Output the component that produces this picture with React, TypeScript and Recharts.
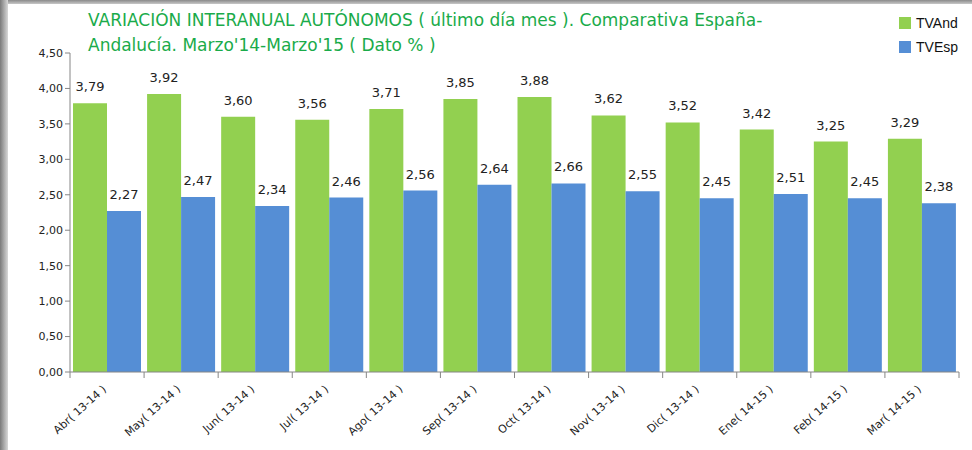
import { BarChart, Bar, XAxis, YAxis, LabelList } from 'recharts'

const months = [
  'Abr( 13-14 )', 'May( 13-14 )', 'Jun( 13-14 )', 'Jul( 13-14 )', 'Ago( 13-14 )', 'Sep( 13-14 )',
  'Oct( 13-14 )', 'Nov( 13-14 )', 'Dic( 13-14 )', 'Ene( 14-15 )', 'Feb( 14-15 )', 'Mar( 14-15 )',
]
const tvAnd = [3.79, 3.92, 3.6, 3.56, 3.71, 3.85, 3.88, 3.62, 3.52, 3.42, 3.25, 3.29]
const tvEsp = [2.27, 2.47, 2.34, 2.46, 2.56, 2.64, 2.66, 2.55, 2.45, 2.51, 2.45, 2.38]
const yTicks = [0, 0.5, 1, 1.5, 2, 2.5, 3, 3.5, 4, 4.5]

const data = months.map((m, i) => ({ month: m, TVAnd: tvAnd[i], TVEsp: tvEsp[i] }))

const fmt = (v: number) => v.toFixed(2).replace('.', ',')

const GREEN = '#92d050'
const BLUE = '#558ed5'
const AXIS = '#868686'
const PLOT_W = 889
const BAND = PLOT_W / months.length

function MonthTick(props: any) {
  const { x, y, payload, index } = props
  const left = x - BAND / 2
  return (
    <g>
      <line x1={left} y1={y - 8} x2={left} y2={y - 2} stroke={AXIS} />
      {index === months.length - 1 && (
        <line x1={x + BAND / 2} y1={y - 8} x2={x + BAND / 2} y2={y - 2} stroke={AXIS} />
      )}
      <text
        x={x}
        y={y + 10}
        textAnchor="end"
        fontSize={11}
        fill="#222"
        fontFamily="DejaVu Sans"
        transform={`rotate(-42, ${x}, ${y + 10})`}
      >
        {payload.value}
      </text>
    </g>
  )
}

function LegendBox() {
  const items = [
    { name: 'TVAnd', color: GREEN },
    { name: 'TVEsp', color: BLUE },
  ]
  return (
    <div style={{ position: 'absolute', left: 899, top: 11, fontFamily: 'Liberation Sans, Arial', fontSize: 14, color: '#111' }}>
      {items.map((it) => (
        <div key={it.name} style={{ display: 'flex', alignItems: 'center', height: 24 }}>
          <span style={{ width: 12, height: 12, background: it.color, marginRight: 5 }} />
          {it.name}
        </div>
      ))}
    </div>
  )
}

export default function App() {
  return (
    <div style={{ position: 'absolute', left: 0, top: 0, width: 972, height: 450, background: '#fff', overflow: 'hidden' }}>
      <div style={{ position: 'absolute', left: 0, top: 0, width: 972, height: 4, background: 'linear-gradient(#8a8a8a, #c8c8c8)' }} />
      <div style={{ position: 'absolute', left: 0, top: 0, width: 8, height: 450, background: 'linear-gradient(90deg, #7a7a7a, #d8d8d8)' }} />
      <div
        style={{
          position: 'absolute',
          left: 88,
          top: 8,
          color: '#1aab4a',
          fontFamily: 'DejaVu Sans',
          fontSize: 17,
          lineHeight: '25px',
          whiteSpace: 'pre',
        }}
      >
        {'VARIACIÓN INTERANUAL AUTÓNOMOS ( último día mes ). Comparativa España-\nAndalucía. Marzo\'14-Marzo\'15 ( Dato % )'}
      </div>
      <LegendBox />
      <BarChart
        width={972}
        height={450}
        data={data}
        margin={{ top: 53, right: 13, left: 8, bottom: 8 }}
        barCategoryGap={3}
        barGap={0}
        style={{ position: 'absolute', left: 0, top: 0 }}
      >
        <XAxis
          dataKey="month"
          stroke={AXIS}
          tickLine={false}
          interval={0}
          height={70}
          tick={<MonthTick />}
        />
        <YAxis
          domain={[0, 4.5]}
          ticks={yTicks}
          tickFormatter={fmt}
          stroke={AXIS}
          width={62}
          tickSize={5}
          tick={{ fontSize: 11, fill: '#222', fontFamily: 'DejaVu Sans' }}
        />
        <Bar dataKey="TVAnd" fill={GREEN} isAnimationActive={false}>
          <LabelList dataKey="TVAnd" position="top" offset={12} formatter={(v: any) => fmt(v)} fontSize={13} fill="#222" fontFamily="DejaVu Sans" />
        </Bar>
        <Bar dataKey="TVEsp" fill={BLUE} isAnimationActive={false}>
          <LabelList dataKey="TVEsp" position="top" offset={12} formatter={(v: any) => fmt(v)} fontSize={13} fill="#222" fontFamily="DejaVu Sans" />
        </Bar>
      </BarChart>
    </div>
  )
}
